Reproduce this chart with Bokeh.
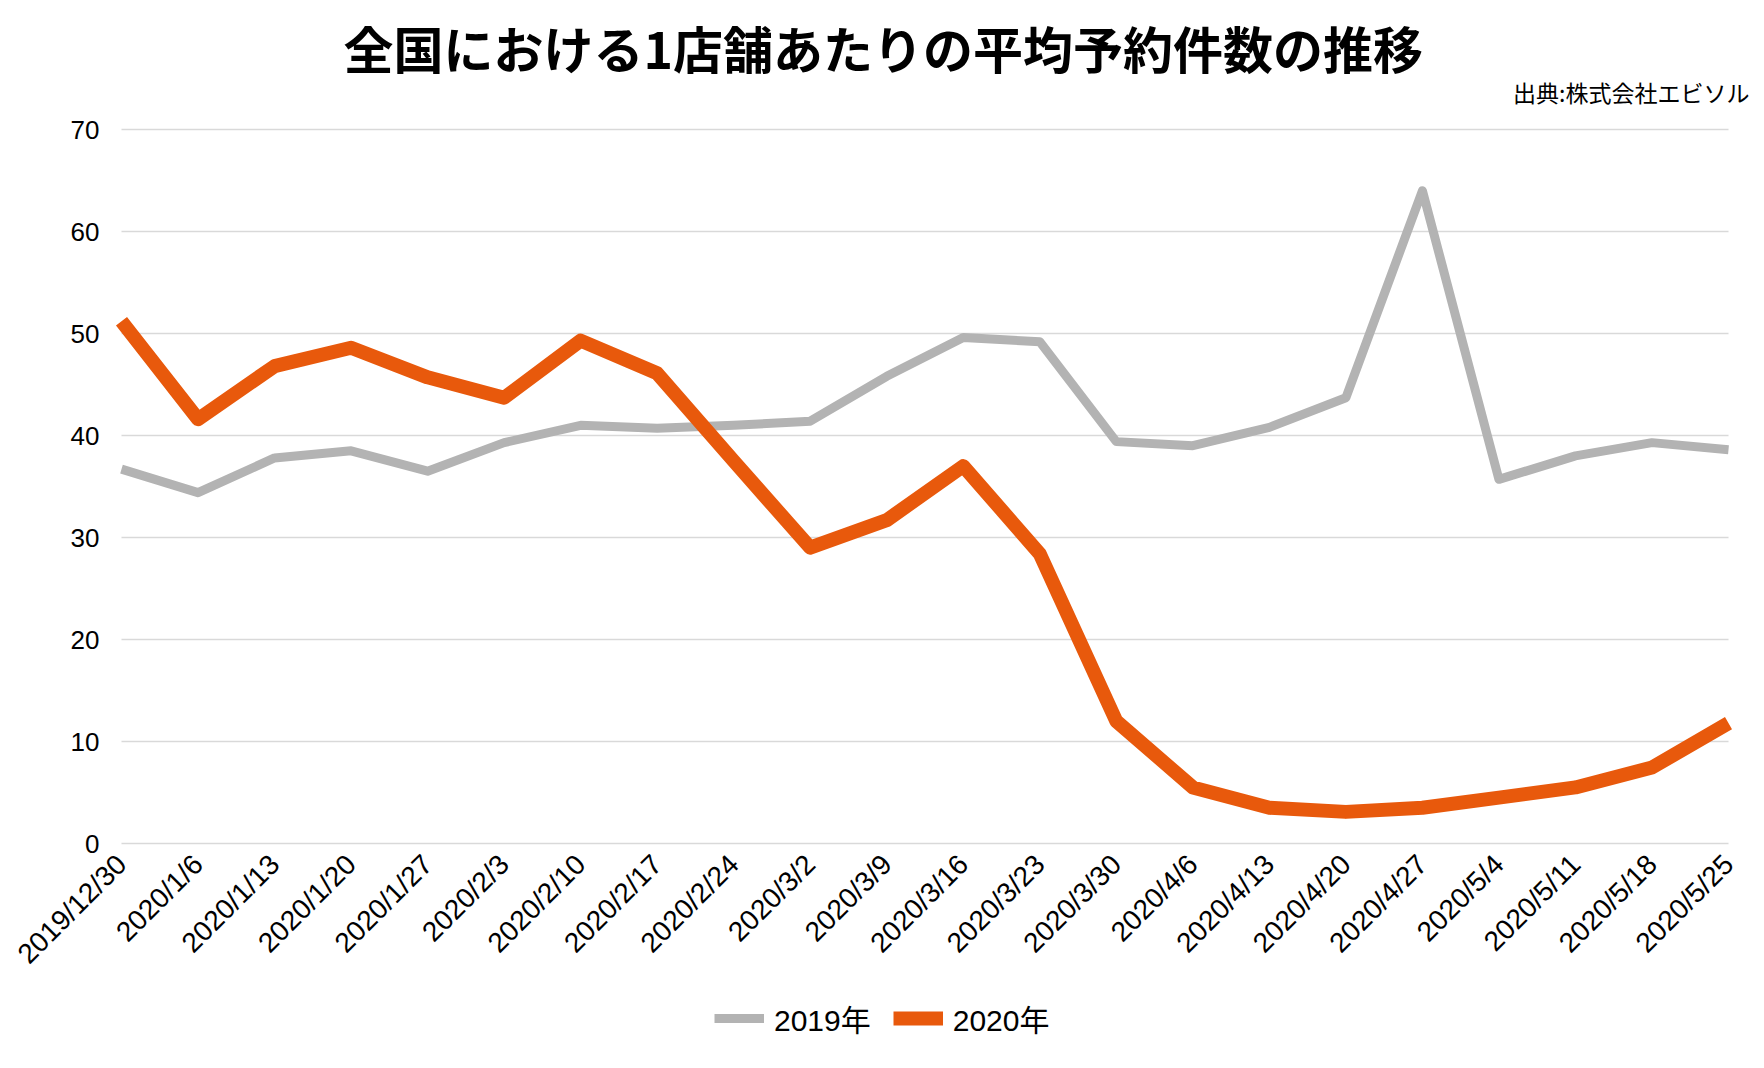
from bokeh.plotting import figure
from bokeh.models import Range1d, FixedTicker, Legend, LegendItem, Title
from bokeh.embed import file_html
from bokeh.resources import INLINE
import math

dates = ["2019/12/30", "2020/1/6", "2020/1/13", "2020/1/20", "2020/1/27", "2020/2/3",
         "2020/2/10", "2020/2/17", "2020/2/24", "2020/3/2", "2020/3/9", "2020/3/16",
         "2020/3/23", "2020/3/30", "2020/4/6", "2020/4/13", "2020/4/20", "2020/4/27",
         "2020/5/4", "2020/5/11", "2020/5/18", "2020/5/25"]
y2019 = [36.7, 34.4, 37.8, 38.5, 36.5, 39.3, 41.0, 40.7, 41.0, 41.4, 45.8, 49.6,
         49.2, 39.4, 39.0, 40.8, 43.7, 64.0, 35.7, 38.0, 39.3, 38.6]
y2020 = [51.2, 41.6, 46.8, 48.6, 45.7, 43.7, 49.3, 46.1, 37.5, 29.0, 31.7, 37.0,
         28.4, 12.0, 5.5, 3.5, 3.1, 3.5, 4.5, 5.5, 7.45, 11.8]
series_names = ["2019年", "2020年"]
yticks = [0, 10, 20, 30, 40, 50, 60, 70]
title_text = "全国における1店舗あたりの平均予約件数の推移"
source_text = "出典:株式会社エビソル"

xs = list(range(len(dates)))

# layout (pixels): data band x 0..21 spans 121..1728, y 0..70 spans 843..129
W, H = 1756, 1064
TOP, BOTTOM = 100, 6
PLOT_L, PLOT_R = 121, 1728
PLOT_T, PLOT_B = 129, 843
px_per_y = (PLOT_B - PLOT_T) / 70.0
y_max = 70 + (PLOT_T - TOP) / px_per_y
y_min = -(H - BOTTOM - PLOT_B) / px_per_y
px_per_x = (PLOT_R - PLOT_L) / (len(dates) - 1)
x_min = -PLOT_L / px_per_x
x_max = (len(dates) - 1) + (W - PLOT_R) / px_per_x

p = figure(width=W, height=H, output_backend="svg", toolbar_location=None,
           x_range=Range1d(x_min, x_max), y_range=Range1d(y_min, y_max),
           min_border_left=0, min_border_right=0, min_border_top=TOP,
           min_border_bottom=BOTTOM)
p.outline_line_color = None
p.background_fill_color = "white"
p.border_fill_color = "white"

gray = "#b3b3b3"
orange = "#e8590c"

# horizontal grid lines at the y ticks, spanning the category range
p.segment(x0=[xs[0]] * len(yticks), y0=yticks, x1=[xs[-1]] * len(yticks), y1=yticks,
          line_color="#d9d9d9", line_width=1.5)

r1 = p.line(xs, y2019, line_color=gray, line_width=9, line_join="round")
r2 = p.line(xs, y2020, line_color=orange, line_width=14, line_join="round")

# axes
p.xaxis.fixed_location = 0
p.xaxis.ticker = FixedTicker(ticks=xs)
p.xaxis.major_label_overrides = {i: d for i, d in enumerate(dates)}
p.xaxis.major_label_orientation = math.pi / 4
p.xaxis.axis_line_color = None
p.xaxis.major_tick_line_color = None
p.xaxis.minor_tick_line_color = None
p.xaxis.major_tick_out = 0
p.xaxis.major_tick_in = 0
p.xaxis.major_label_standoff = 16
p.xaxis.major_label_text_font = "Liberation Sans"
p.xaxis.major_label_text_font_size = "28px"
p.xaxis.major_label_text_color = "#000000"

p.yaxis.fixed_location = 0
p.yaxis.ticker = FixedTicker(ticks=yticks)
p.yaxis.axis_line_color = None
p.yaxis.major_tick_line_color = None
p.yaxis.minor_tick_line_color = None
p.yaxis.major_tick_out = 0
p.yaxis.major_tick_in = 0
p.yaxis.major_label_standoff = 22
p.yaxis.major_label_text_font = "Liberation Sans"
p.yaxis.major_label_text_font_size = "26px"
p.yaxis.major_label_text_color = "#000000"

p.xgrid.grid_line_color = None
p.ygrid.grid_line_color = None

# source (closest to the plot), then main title above it
p.add_layout(Title(text=source_text, align="right", offset=7,
                   text_font="Noto Sans CJK JP", text_font_style="normal",
                   text_font_size="23px", text_color="#000000", standoff=-16), "above")
p.add_layout(Title(text=title_text, align="left", offset=343,
                   text_font="Noto Sans CJK JP", text_font_style="bold",
                   text_font_size="50px", text_color="#000000", standoff=-4), "above")

legend = Legend(items=[LegendItem(label=series_names[0], renderers=[r1]),
                       LegendItem(label=series_names[1], renderers=[r2])],
                location=(714, 18), orientation="horizontal")
legend.border_line_color = None
legend.background_fill_alpha = 0
legend.padding = 0
legend.margin = 0
legend.glyph_width = 50
legend.glyph_height = 30
legend.label_height = 30
legend.label_standoff = 10
legend.spacing = 22
legend.label_text_font = "Liberation Sans, Noto Sans CJK JP"
legend.label_text_font_size = "30px"
legend.label_text_color = "#000000"
legend.label_text_baseline = "middle"
p.add_layout(legend, "center")

open("out.html", "w").write(file_html(p, INLINE))
